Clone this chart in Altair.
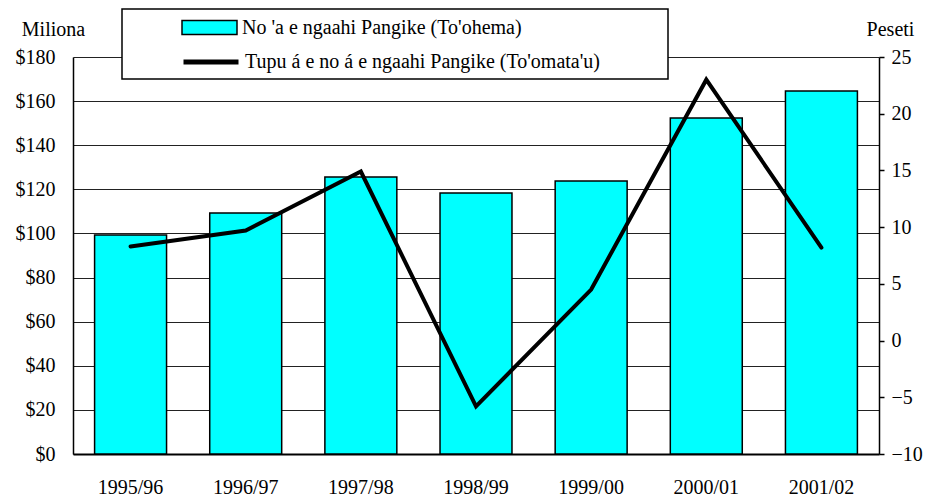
import altair as alt
import pandas as pd

years = ["1995/96", "1996/97", "1997/98", "1998/99", "1999/00", "2000/01", "2001/02"]
deposits = [99.3, 109.3, 125.6, 118.3, 123.8, 152.3, 164.6]
growth = [8.3, 9.7, 14.9, -5.8, 4.5, 23.0, 8.2]
bar_label = "No 'a e ngaahi Pangike (To'ohema)"
line_label = "Tupu á e no á e ngaahi Pangike (To'omata'u)"
left_ticks = list(range(0, 181, 20))
right_ticks = list(range(-10, 26, 5))

FONT = "Liberation Serif"
FS = 20

df = pd.DataFrame({
    "year": years,
    "deposits": deposits,
    "growth": growth,
    "bar_series": [bar_label] * len(years),
    "line_series": [line_label] * len(years),
})

x = alt.X(
    "year:N",
    sort=years,
    scale=alt.Scale(paddingInner=0.375, paddingOuter=0.1875),
    axis=alt.Axis(
        title=None, labelAngle=0, ticks=False, tickSize=0, labelPadding=39,
        labelBaseline="alphabetic", domainColor="black", domainWidth=2, grid=False,
        labelFont=FONT, labelFontSize=FS, labelColor="black",
    ),
)

bars = alt.Chart(df).mark_bar(stroke="black", strokeWidth=1.5).encode(
    x=x,
    y=alt.Y(
        "deposits:Q",
        scale=alt.Scale(domain=[0, 180], nice=False, zero=True),
        axis=alt.Axis(
            values=left_ticks, labelExpr="'$' + datum.value", grid=True,
            gridColor="#222222", gridWidth=1, ticks=False, tickSize=0,
            labelPadding=18, domainColor="black", domainWidth=1.5,
            labelFont=FONT, labelFontSize=FS, labelColor="black",
            title="Miliona", titleAngle=0, titleX=-20, titleY=-22,
            titleAlign="center", titleBaseline="alphabetic",
            titleFont=FONT, titleFontSize=FS, titleFontWeight="normal", titleColor="black",
        ),
    ),
    fill=alt.Fill(
        "bar_series:N",
        scale=alt.Scale(domain=[bar_label], range=["#00FFFF"]),
        legend=alt.Legend(
            orient="none", legendX=108, legendY=-58, title=None,
            symbolType="M-1,-0.2545L1,-0.2545L1,0.2545L-1,0.2545Z",
            symbolSize=3025, symbolStrokeColor="black", symbolStrokeWidth=1.5,
            symbolOpacity=1, labelOffset=4,
            labelFont=FONT, labelFontSize=FS, labelColor="black", labelLimit=1000,
        ),
    ),
)

line = alt.Chart(df).mark_line(strokeWidth=4, strokeCap="round").encode(
    x=x,
    y=alt.Y(
        "growth:Q",
        scale=alt.Scale(domain=[-10, 25], nice=False, zero=False),
        axis=alt.Axis(
            orient="right", values=right_ticks, grid=False, ticks=True,
            tickSize=5, tickColor="black", tickWidth=1.5, labelPadding=7,
            labelAlign="left", domainColor="black", domainWidth=1.5,
            labelFont=FONT, labelFontSize=FS, labelColor="black",
            title="Peseti", titleAngle=0, titleX=11, titleY=-22,
            titleAlign="center", titleBaseline="alphabetic",
            titleFont=FONT, titleFontSize=FS, titleFontWeight="normal", titleColor="black",
        ),
    ),
    stroke=alt.Stroke(
        "line_series:N",
        scale=alt.Scale(domain=[line_label], range=["black"]),
        legend=alt.Legend(
            orient="none", legendX=108, legendY=-25, title=None,
            symbolType="stroke", symbolSize=3025, symbolStrokeWidth=5,
            labelOffset=4,
            labelFont=FONT, labelFontSize=FS, labelColor="black", labelLimit=1000,
        ),
    ),
)

box = alt.Chart(pd.DataFrame({"k": [0]})).mark_rect(
    fill="white", stroke="black", strokeWidth=1.5
).encode(
    x=alt.value(49), x2=alt.value(595), y=alt.value(-48), y2=alt.value(22)
)

chart = (
    alt.layer(bars, line, box)
    .resolve_scale(y="independent", fill="independent", stroke="independent")
    .properties(
        width=806, height=397, autosize=alt.AutoSizeParams(type="none"),
        padding={"left": 65, "top": 49, "right": 44, "bottom": 42},
    )
    .configure(font=FONT)
    .configure_view(strokeWidth=0)
    .configure_axis(
        labelFont=FONT, labelFontSize=FS, labelColor="black",
        titleFont=FONT, titleFontSize=FS, titleFontWeight="normal", titleColor="black",
    )
    .configure_legend(
        labelFont=FONT, labelFontSize=FS, labelColor="black", labelLimit=1000,
        padding=0, symbolOffset=0, rowPadding=0,
    )
)

chart.save("out.html", embed_options={"renderer": "svg", "actions": False})
